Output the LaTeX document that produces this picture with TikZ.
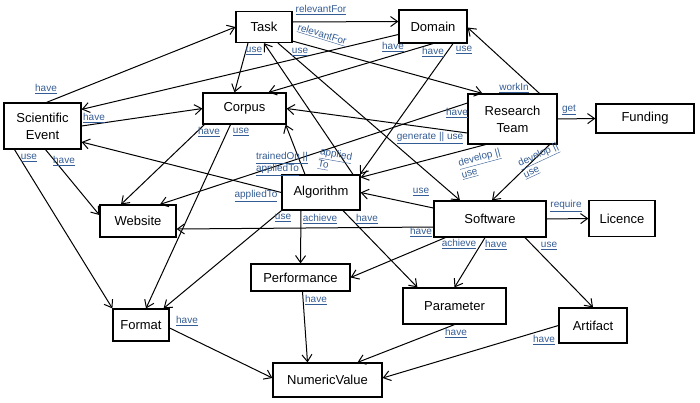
\documentclass[tikz,border=0pt]{standalone}
\usepackage{fontspec}
\setmainfont{Liberation Sans}
\usetikzlibrary{arrows.meta}
\definecolor{lblblue}{RGB}{52,92,148}

\begin{document}
\begin{tikzpicture}[x=1pt,y=-1pt,
  box/.style={draw,line width=1.2pt,fill=white,inner sep=0pt,align=center,
    font=\fontsize{13}{17}\selectfont},
  rel/.style={line width=1pt,-{Straight Barb[length=7pt,width=10pt,line width=1pt]}},
  lbl/.style={inner sep=0pt,text=lblblue,align=left,font=\fontsize{10}{12.5}\selectfont}]

\useasboundingbox (0,0) rectangle (700,402);

\node (task) at (264,27) [box,minimum width=56pt,minimum height=31pt] {Task};
\node (domain) at (433,26.5) [box,minimum width=68pt,minimum height=33pt] {Domain};
\node (sci) at (42.5,126) [box,minimum width=77pt,minimum height=46pt] {Scientific\\Event};
\node (corpus) at (244.5,108.5) [box,minimum width=83pt,minimum height=31pt] {Corpus};
\node (team) at (512.5,119) [box,minimum width=89pt,minimum height=50pt] {Research\\Team};
\node (funding) at (645,118.5) [box,minimum width=98pt,minimum height=29pt] {Funding};
\node (algo) at (321,192.5) [box,minimum width=78pt,minimum height=35pt] {Algorithm};
\node (website) at (138,221) [box,minimum width=76pt,minimum height=32pt] {Website};
\node (software) at (490,219) [box,minimum width=112pt,minimum height=36pt] {Software};
\node (licence) at (622,218.5) [box,minimum width=66pt,minimum height=36pt] {Licence};
\node (perf) at (300.5,277.5) [box,minimum width=99pt,minimum height=27pt] {Performance};
\node (param) at (454.5,306) [box,minimum width=103pt,minimum height=36pt] {Parameter};
\node (format) at (141,325) [box,minimum width=56pt,minimum height=32pt] {Format};
\node (artifact) at (593,325.5) [box,minimum width=68pt,minimum height=35pt] {Artifact};
\node (numval) at (327.5,380) [box,minimum width=109pt,minimum height=34pt] {NumericValue};

% relations
\draw[rel] ([yshift=5pt]task.east) -- ([yshift=5pt]domain.west);
\draw[rel] ([yshift=2pt]task.south east) -- ([xshift=15pt]team.north west);
\draw[rel] ([xshift=-16pt]task.south) -- ([xshift=-10pt]corpus.north);
\draw[rel] ([xshift=14pt]task.south) -- ([xshift=-30pt]software.north);
\draw[rel] ([xshift=32pt]algo.north) -- (task.south);
\draw[rel] ([yshift=-8pt]domain.west) -- ([yshift=-7pt]sci.north east);
\draw[rel] (domain.south) -- ([xshift=24pt]corpus.north);
\draw[rel] ([xshift=20pt]domain.south) -- ([xshift=39pt]algo.north);
\draw[rel] ([xshift=27pt]team.north) -- ([yshift=-1pt]domain.east);
\draw[rel] (team.east) -- (funding.west);
\draw[rel] ([yshift=-14pt]team.west) -- (corpus.east);
\draw[rel] ([yshift=16pt]team.west) -- ([xshift=22pt]website.north);
\draw[rel] ([xshift=2pt]corpus.south west) -- ([xshift=-17pt]website.north);
\draw[rel] ([xshift=-14pt]corpus.south) -- ([xshift=5pt]format.north);
\draw[rel] ([xshift=4pt]sci.north) -- (task.west);
\draw[rel] (sci.east) -- (corpus.west);
\draw[rel] ([xshift=-28pt]sci.south) -- (format.north west);
\draw[rel] ([xshift=3pt]sci.south) -- ([yshift=6pt]website.west);
\draw[rel] (algo.west) -- ([yshift=-16pt]sci.east);
\draw[rel] ([xshift=-16pt]algo.north) -- ([xshift=-1pt]corpus.south east);
\draw[rel] ([yshift=11pt]software.west) -- (algo.east);
\draw[rel] ([yshift=-8pt]software.west) -- ([yshift=-8pt]website.east);
\draw[rel] (software.east) -- (licence.west);
\draw[rel] ([xshift=12pt]software.south west) -- (perf.east);
\draw[rel] ([xshift=-5pt]software.south) -- (param.north);
\draw[rel] ([xshift=35pt]software.south) -- (artifact.north);
\draw[rel] ([xshift=-27pt]team.south) -- ([yshift=-3pt]algo.north east);
\draw[rel] ([xshift=37pt]team.south) -- ([xshift=2pt]software.north);
\draw[rel] (algo.south west) -- ([xshift=-6pt]format.north east);
\draw[rel] ([xshift=-20pt]algo.south) -- (perf.north);
\draw[rel] ([xshift=22pt]algo.south) -- ([xshift=15pt]param.north west);
\draw[rel] ([xshift=2pt]perf.south) -- ([xshift=-20pt]numval.north);
\draw[rel] ([yshift=-3pt]format.east) -- ([yshift=2pt]numval.west);
\draw[rel] (param.south) -- ([xshift=30pt]numval.north);
\draw[rel] (artifact.west) -- ([yshift=2pt]numval.east);

% relation labels
\node (l-td) at (321,10) [lbl] {\underline{relevantFor}};
\node (l-tr) at (322,35) [lbl,rotate=-17] {\underline{relevantFor}};
\node (l-tc) at (254,51) [lbl] {\underline{use}};
\node (l-ts) at (300,52) [lbl] {\underline{use}};
\node (l-at) at (335,161) [lbl,rotate=-10] {\underline{applied}\\\underline{To}};
\node (l-ds) at (393,47) [lbl] {\underline{have}};
\node (l-dc) at (433,52) [lbl] {\underline{have}};
\node (l-da) at (464,50) [lbl] {\underline{use}};
\node (l-rd) at (514,88) [lbl] {\underline{workIn}};
\node (l-rf) at (569,110) [lbl] {\underline{get}};
\node (l-rc) at (430,138) [lbl] {\underline{generate || use}};
\node (l-rw) at (457,113) [lbl] {\underline{have}};
\node (l-cw) at (209,132) [lbl] {\underline{have}};
\node (l-cf) at (241,132) [lbl] {\underline{use}};
\node (l-st) at (46,89) [lbl] {\underline{have}};
\node (l-sc) at (94,118) [lbl] {\underline{have}};
\node (l-sf) at (29,158) [lbl] {\underline{use}};
\node (l-sw) at (64,161) [lbl] {\underline{have}};
\node (l-as) at (256,196) [lbl] {\underline{appliedTo}};
\node (l-ac) at (282,164) [lbl] {\underline{trainedOn ||}\\\underline{appliedTo}};
\node (l-sa) at (421,192) [lbl] {\underline{use}};
\node (l-swb) at (421,232) [lbl] {\underline{have}};
\node (l-sl) at (566,206) [lbl] {\underline{require}};
\node (l-sp) at (459,244) [lbl] {\underline{achieve}};
\node (l-spa) at (496,245) [lbl] {\underline{have}};
\node (l-sar) at (549,246) [lbl] {\underline{use}};
\node (l-ra) at (481,164) [lbl,rotate=15] {\underline{develop ||}\\\underline{use}};
\node (l-rs) at (541,161) [lbl,rotate=25] {\underline{develop ||}\\\underline{use}};
\node (l-af) at (283,218) [lbl] {\underline{use}};
\node (l-ap) at (320,219) [lbl] {\underline{achieve}};
\node (l-apa) at (367,219) [lbl] {\underline{have}};
\node (l-pn) at (316,300) [lbl] {\underline{have}};
\node (l-fn) at (187,321) [lbl] {\underline{have}};
\node (l-pan) at (456,333) [lbl] {\underline{have}};
\node (l-arn) at (544,340) [lbl] {\underline{have}};

\end{tikzpicture}
\end{document}
